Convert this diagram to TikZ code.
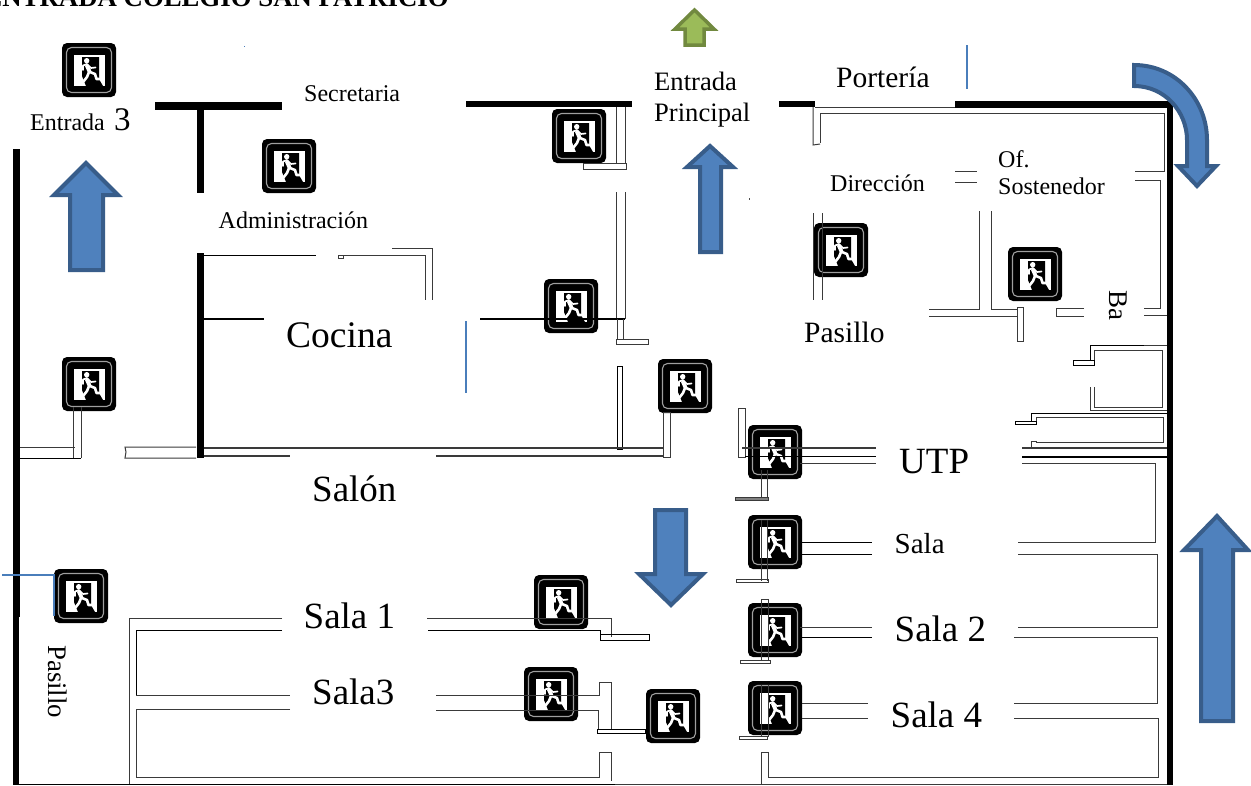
\documentclass[tikz,border=0pt]{standalone}
\usepackage{fontspec}
\setmainfont{Liberation Serif}
\definecolor{bluefill}{HTML}{4F81BD}
\definecolor{blueedge}{HTML}{385D8A}
\definecolor{greenfill}{HTML}{9BBB59}
\definecolor{greenedge}{HTML}{71893F}
\definecolor{wallgray}{HTML}{3A3A3A}
\definecolor{thinblue}{HTML}{4A7EBB}
\newcommand\fsz[1]{\fontsize{#1}{#1}\selectfont}
\tikzset{
  x=1pt,y=-1pt,
  lbl/.style={inner sep=0pt,anchor=base west,text=black},
  wl/.style={draw=wallgray,line width=1pt,line join=miter},
  wk/.style={draw=black,line width=1pt,line join=miter},
  solidwall/.style={fill=black,draw=none},
  bluearrow/.style={fill=bluefill,draw=blueedge,line width=4pt,line join=miter},
  greenarrow/.style={fill=greenfill,draw=greenedge,line width=3.5pt,line join=miter},
  thinb/.style={draw=thinblue,line width=1.2pt},
  exitsign/.pic={
    \fill[black,rounded corners=5pt] (-27,-27) rectangle (27,27);
    \draw[gray!75!white,line width=1.1pt,rounded corners=5pt] (-22.5,-22.5) rectangle (22.5,22.5);
    \fill[white] (-15,-15) rectangle (16,16);
    \fill[black] (-7,-13) -- (10,-13) -- (10,6) -- (10.5,10) -- (14,16) -- (-3,16) -- (-7,6) -- cycle;
    \fill[white] (-2.3,-9.3) circle (2.7);
    \draw[white,line width=3.8pt,line cap=round] (-2.2,-4.5) -- (0.5,1.5);
    \draw[white,line width=1.7pt,line cap=round,line join=round] (-6,0) -- (-6,-4.5) -- (-2,-6) -- (2,-2) -- (6.5,-2.5);
    \draw[white,line width=2.6pt,line cap=round,line join=round] (0,2) -- (-2,7) -- (-5.5,11.5);
    \draw[white,line width=2.6pt,line cap=round,line join=round] (1,2) -- (6,4) -- (7.5,9) -- (11,9);
  }
}
\begin{document}
\begin{tikzpicture}
\useasboundingbox (0,0) rectangle (1251,785);
\clip (0,0) rectangle (1251,785);

% title (cut by the page)
\node[lbl,anchor=base east,font=\fsz{26.8}\bfseries] (title) at (449,6.5) {ENTRADA COLEGIO SAN PATRICIO};

% exit signs
\foreach \sx/\sy in {89/70,289/166,579/136,571/306,685/386,841/250,1035/274,775/452,775/542,775/630,775/708,89/384,81/596,561/602,551/694,673/716}
  \pic at (\sx,\sy) {exitsign};

% solid walls
\fill[solidwall] (155,101.5) rectangle (282,110);
\fill[solidwall] (197,110) rectangle (204,193);
\fill[solidwall] (197,253) rectangle (204,458);
\fill[solidwall] (13,149) rectangle (20,617);
\fill[solidwall] (13,617) rectangle (18.5,785);
\fill[solidwall] (466,101) rectangle (632,107);
\fill[solidwall] (779,101) rectangle (815,107);
\fill[solidwall] (955,101) rectangle (1173,108);
\fill[solidwall] (1167,101) rectangle (1173,785);

% top right offices
\draw[wl] (815,107) -- (955,107);
\draw[wl] (820,143) -- (820,113) -- (1164,113) -- (1164,171) -- (1135,171);
\draw[wl] (813,107) -- (813,145) -- (820,144);
\draw[wl] (1135,180) -- (1160,180) -- (1160,308) -- (1144,308);
\draw[wl] (1144,315) -- (1167,315);
\draw[wl] (955,171) -- (977,171);
\draw[wl] (955,182) -- (977,182);
\draw[wl] (813,213) -- (813,300);
\draw[wl] (822,213) -- (822,300);
\draw[wl] (979,211) -- (979,309) -- (929,309);
\draw[wl] (929,316) -- (1017,316);
\draw[wl] (991,211) -- (991,309) -- (1017,309);
\draw[wl] (1017,307) rectangle (1023,341);
\draw[wl] (1084,308) -- (1056,308) -- (1056,316) -- (1084,316);

% right small rooms
\draw[wk] (1144,345) -- (1090,345) -- (1090,360);
\draw[wl] (1144,345) -- (1167,345);
\draw[wk] (1073,360) rectangle (1094,365);
\draw[wl] (1094,360) -- (1094,350) -- (1162,350) -- (1162,407) -- (1094,407) -- (1094,387);
\draw[wl] (1090,387) -- (1090,410) -- (1167,410);
\draw[wk] (1167,413) -- (1031,413) -- (1031,421);
\draw[wk] (1015,421) rectangle (1036,424);
\draw[wl] (1036,421) -- (1036,417) -- (1163,417) -- (1163,442) -- (1036,442) -- (1036,441) -- (1031,441) -- (1031,447);
\draw[wl,line width=1.6pt] (1022,448) -- (1167,448);
\draw[wk,line width=1.4pt] (1022,457) -- (1167,457);
\draw[wl] (1022,463) -- (1155,463) -- (1155,542) -- (1018,542);
\draw[wl] (1018,554) -- (1157,554) -- (1157,627) -- (1018,627);
\draw[wl] (1014,637) -- (1157,637) -- (1157,703) -- (1014,703);
\draw[wl] (1014,718) -- (1158,718) -- (1158,777) -- (768,777) -- (768,752) -- (761,752) -- (761,784);
\draw[wl] (15,784) -- (1167,784);
\fill[solidwall] (15,783.5) rectangle (615,785);

% middle column around the main entrance
\draw[wl] (616,107) -- (616,163);
\draw[wl] (625,107) -- (625,163);
\draw[wl] (583,163) rectangle (626,169);
\draw[wl] (616,192) -- (616,319);
\draw[wl] (625,192) -- (625,319);
\draw[wk,line width=1.5pt] (480,319) -- (625,319);
\draw[wl] (617,319) -- (617,339);
\draw[wl] (623,319) -- (623,339);
\draw[wl] (616,339) rectangle (648,344);
\draw[wk] (617,366) rectangle (622.5,449);

% cocina
\draw[wk] (204,255) -- (316,255);
\draw[wl] (338,255) rectangle (343,258);
\draw[wl] (343,255) -- (425,255) -- (425,300);
\draw[wl] (392,248) -- (432,248) -- (432,300);
\draw[wk,line width=1.5pt] (204,319) -- (264,319);

% salon
\draw[wl,line width=1.2pt] (204,448) -- (663,448);
\draw[wl,line width=1.2pt] (204,456) -- (290,456);
\draw[wl,line width=1.2pt] (436,456) -- (663,456);
\draw[wl] (663,412) rectangle (670,457);

% left column
\draw[wl] (73,407) -- (73,458);
\draw[wl] (81,407) -- (81,458);
\draw[wl] (20,447) -- (75,447);
\draw[wk] (20,458) -- (81,458);
\draw[wl] (196,447) -- (125,447) -- (126,452) -- (125,458) -- (196,458);

% bottom left rooms
\draw[wl] (282,618) -- (129,618) -- (129,784);
\draw[wk] (282,630) -- (136,630) -- (136,695);
\draw[wl] (136,695) -- (290,695);
\draw[wl] (290,709) -- (136,709) -- (136,777) -- (599,777) -- (599,752) -- (611,752);
\draw[wl] (611,752) -- (611,781);

% sala 1 and sala 3 ends
\draw[wl] (427,618) -- (611,618) -- (611,637);
\draw[wk] (428,630) -- (600,630) -- (600,635);
\draw[wk] (600,634) rectangle (649,640);
\draw[wl] (436,695) -- (599,695) -- (599,682) -- (611,682) -- (611,729);
\draw[wl] (436,710) -- (598,710) -- (598,729);
\draw[wk] (597,729) rectangle (645,733);

% right group of rooms
\draw[wl] (738,408) rectangle (745,457);
\draw[wl,line width=1.2pt] (742,448) -- (876,448);
\draw[wk,line width=1.4pt] (745,456.5) -- (876,456.5);
\draw[wl] (800,463) -- (876,463);
\draw[wl] (761,470) -- (761,498);
\draw[wl] (767,470) -- (767,498);
\draw[wl,fill=gray] (735,497) rectangle (768,500.5);
\draw[wk] (800,542) -- (872,542);
\draw[wk] (800,554) -- (872,554);
\draw[wl] (761,520) -- (761,581);
\draw[wl] (767,520) -- (767,581);
\draw[wl] (736,579.5) rectangle (768,582);
\draw[wl] (800,627) -- (872,627);
\draw[wk] (800,637) -- (872,637);
\draw[wl] (761,599) -- (761,661);
\draw[wl] (768,599) -- (768,661);
\draw[wl] (761,599) -- (768,599);
\draw[wl] (740,660) rectangle (770,663);
\draw[wl] (802,703) -- (868,703);
\draw[wl] (802,718) -- (868,718);
\draw[wl] (761,685) -- (761,737);
\draw[wl] (768,685) -- (768,737);
\draw[wl] (739,736) rectangle (767,739);

% thin blue lines and specks
\draw[thinb] (967,45) -- (967,89);
\draw[thinb] (466,321) -- (466,393);
\draw[thinb] (2,575) -- (54,575) -- (54,616);
\fill[thinblue] (243.5,45.5) rectangle (245,47);
\fill[black!70] (749,198) rectangle (750,200);

% block arrows
\draw[bluearrow] (86,163) -- (118,195) -- (103,195) -- (103,270) -- (70,270) -- (70,195) -- (54,195) -- cycle;
\draw[bluearrow] (710,146) -- (733,167) -- (721,167) -- (721,252) -- (700,252) -- (700,167) -- (687,167) -- cycle;
\draw[greenarrow] (694.5,10) -- (714,29) -- (704,29) -- (704,45) -- (685,45) -- (685,29) -- (675,29) -- cycle;
\draw[bluearrow] (655,510) -- (686,510) -- (686,574) -- (703,574) -- (671,605) -- (639,574) -- (655,574) -- cycle;
\draw[bluearrow] (1217,516) -- (1248,550) -- (1233,550) -- (1233,721) -- (1201,721) -- (1201,550) -- (1184,550) -- cycle;
\draw[bluearrow] (1134,65) .. controls (1176,65) and (1207,100) .. (1207,140) -- (1207,166) -- (1216,166) -- (1197,186) -- (1178,166) -- (1187,166) -- (1187,140) .. controls (1187,112) and (1165,86) .. (1134,86) -- cycle;

% labels
\node[lbl,font=\fsz{24}] (secretaria) at (304,101) {Secretaria};
\node[lbl,font=\fsz{24}] (entrada) at (30,130) {Entrada};
\node[lbl,font=\fsz{33}] (tres) at (114,130) {3};
\node[lbl,font=\fsz{24}] (admin) at (218.5,228) {Administración};
\node[lbl,font=\fsz{26.6}] (entradap) at (654,90) {Entrada};
\node[lbl,font=\fsz{26.6}] (principal) at (654,121) {Principal};
\node[lbl,font=\fsz{29.5}] (porteria) at (836,87) {Portería};
\node[lbl,font=\fsz{24}] (direccion) at (830,191) {Dirección};
\node[lbl,font=\fsz{24}] (of) at (998,167.5) {Of.};
\node[lbl,font=\fsz{24}] (sostenedor) at (998,194) {Sostenedor};
\node[lbl,font=\fsz{29.5}] (pasilloa) at (804,342) {Pasillo};
\node[lbl,font=\fsz{27},rotate=-90] (ba) at (1109,290) {Ba};
\node[lbl,font=\fsz{37.5}] (cocina) at (286,347) {Cocina};
\node[lbl,font=\fsz{37}] (salon) at (312,501) {Salón};
\node[lbl,font=\fsz{37}] (utp) at (899,473) {UTP};
\node[lbl,font=\fsz{29}] (sala) at (894.5,553) {Sala};
\node[lbl,font=\fsz{37}] (sala2) at (894.5,641.5) {Sala 2};
\node[lbl,font=\fsz{37}] (sala4) at (890.5,727.5) {Sala 4};
\node[lbl,font=\fsz{37}] (sala1) at (303.5,628) {Sala 1};
\node[lbl,font=\fsz{37}] (sala3) at (312,704) {Sala3};
\node[lbl,font=\fsz{26.8},rotate=-90] (pasillob) at (48,645) {Pasillo};
\end{tikzpicture}
\end{document}
